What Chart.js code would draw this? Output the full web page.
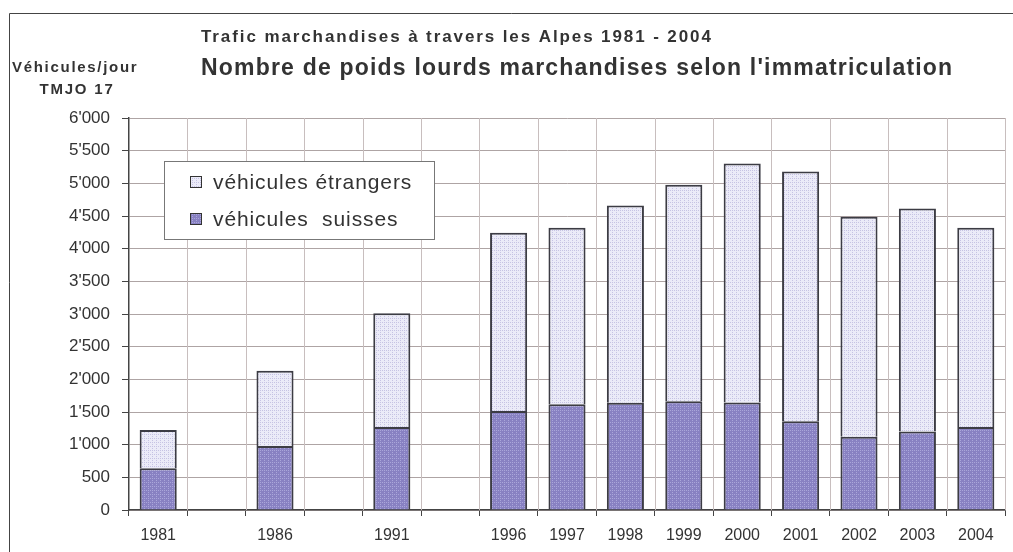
<!DOCTYPE html>
<html>
<head>
<meta charset="utf-8">
<script src="https://cdn.jsdelivr.net/npm/chart.js@4.4.0/dist/chart.umd.min.js"></script>
<style>
  html, body { margin: 0; padding: 0; background: #fff; overflow: hidden; }
  #wrap { position: relative; width: 1013px; height: 552px; }
  canvas { display: block; }
</style>
</head>
<body>
<div id="wrap"><canvas id="alpesChart" width="1013" height="552"></canvas></div>
<script>
// données (véhicules/jour, TMJO 17)
const years = ['1981', '', '1986', '', '1991', '', '1996', '1997', '1998', '1999', '2000', '2001', '2002', '2003', '2004'];
const suisses = [640, null, 980, null, 1270, null, 1515, 1620, 1640, 1665, 1645, 1360, 1120, 1200, 1270];
const etrangers = [585, null, 1150, null, 1740, null, 2730, 2700, 3020, 3315, 3660, 3820, 3370, 3415, 3050];
const yTicks = [0, 500, 1000, 1500, 2000, 2500, 3000, 3500, 4000, 4500, 5000, 5500, 6000];

const FONT = '"Liberation Sans", Arial, sans-serif';

// petit motif pointillé pour les barres
function makePattern(base, dot) {
    const c = document.createElement('canvas');
    c.width = 4; c.height = 4;
    const g = c.getContext('2d');
    g.fillStyle = base;
    g.fillRect(0, 0, 4, 4);
    g.fillStyle = dot;
    g.fillRect(0, 0, 1, 1);
    g.fillRect(2, 2, 1, 1);
    g.fillRect(0, 2, 1, 1);
    return g.createPattern(c, 'repeat');
}
const ctx = document.getElementById('alpesChart').getContext('2d');
const fillSuisses = makePattern('#8881c2', '#aaa6da');
const fillEtrangers = makePattern('#ebebf8', '#c6c3e3');

function spacedText(c, txt, x, y, spacing) {
    c.letterSpacing = spacing + 'px';
    c.fillText(txt, x, y);
    c.letterSpacing = '0px';
}

// titres, cadre et légende dessinés sur le canvas
const decor = {
    id: 'decor',
    beforeDraw(chart) {
        const c = chart.ctx;
        c.save();
        c.fillStyle = '#fff';
        c.fillRect(0, 0, chart.width, chart.height);
        // cadre (coupé à droite et en bas comme l'original)
        c.strokeStyle = '#444';
        c.lineWidth = 1;
        c.beginPath();
        c.moveTo(9.5, chart.height);
        c.lineTo(9.5, 13.5);
        c.lineTo(chart.width, 13.5);
        c.stroke();

        c.fillStyle = '#333';
        c.textBaseline = 'alphabetic';
        c.textAlign = 'left';
        c.font = 'bold 17px ' + FONT;
        spacedText(c, 'Trafic marchandises à travers les Alpes 1981 - 2004', 201, 42, 1.9);
        c.font = 'bold 23px ' + FONT;
        spacedText(c, "Nombre de poids lourds marchandises selon l'immatriculation", 201, 75, 1.2);
        c.font = 'bold 15px ' + FONT;
        spacedText(c, 'Véhicules/jour', 12, 72, 1.7);
        c.textAlign = 'center';
        spacedText(c, 'TMJO 17', 77, 94, 1.8);
        c.restore();
    },
    beforeDatasetsDraw(chart) {
        // lignes verticales entre catégories
        const c = chart.ctx, xs = chart.scales.x, a = chart.chartArea;
        c.save();
        c.strokeStyle = '#c8bebe';
        c.lineWidth = 1;
        c.beginPath();
        for (let i = 1; i <= years.length; i++) {
            const px = Math.round(xs.getPixelForValue(i - 0.5)) + 0.5;
            c.moveTo(px, a.top);
            c.lineTo(px, a.bottom);
        }
        c.stroke();
        c.restore();
    },
    afterDatasetsDraw(chart) {
        const c = chart.ctx;
        c.save();
        c.fillStyle = '#fff';
        c.fillRect(164, 161, 270, 78);
        c.strokeStyle = '#777';
        c.lineWidth = 1;
        c.strokeRect(164.5, 161.5, 270, 78);
        const items = [chart.data.datasets[1], chart.data.datasets[0]];
        items.forEach((ds, i) => {
            const y = 182 + i * 37;
            c.fillStyle = ds.backgroundColor;
            c.fillRect(190, y - 5, 11, 11);
            c.strokeStyle = '#333';
            c.strokeRect(190.5, y - 5.5, 11, 11);
            c.fillStyle = '#333';
            c.font = '21px ' + FONT;
            c.textBaseline = 'middle';
            c.textAlign = 'left';
            spacedText(c, ds.label, 213, y + 1, 0.9);
        });
        c.restore();
    }
};

new Chart(ctx, {
    type: 'bar',
    data: {
        labels: years,
        datasets: [{
            label: 'véhicules  suisses',
            data: suisses,
            backgroundColor: fillSuisses,
            borderColor: '#3c3c44',
            borderWidth: 2,
            borderSkipped: 'start'
        }, {
            label: 'véhicules étrangers',
            data: etrangers,
            backgroundColor: fillEtrangers,
            borderColor: '#3c3c44',
            borderWidth: 2,
            borderSkipped: 'start'
        }]
    },
    options: {
        responsive: false,
        animation: false,
        layout: { padding: { left: 9, right: 8, top: 118, bottom: 0 } },
        categoryPercentage: 1,
        barPercentage: 0.635,
        plugins: {
            legend: { display: false },
            tooltip: { enabled: false }
        },
        scales: {
            x: {
                stacked: true,
                offset: true,
                grid: { drawOnChartArea: false, offset: true, tickLength: 6, tickColor: '#444' },
                border: { color: '#444', width: 1.5 },
                ticks: { color: '#333', font: { family: FONT, size: 16 }, autoSkip: false, maxRotation: 0, padding: 10 },
                afterFit(s) { s.height = 42; }
            },
            y: {
                stacked: true,
                min: 0,
                max: 6000,
                afterBuildTicks(s) { s.ticks = yTicks.map(v => ({ value: v })); },
                grid: { color: '#aea4a4', tickLength: 7, tickColor: '#444' },
                border: { color: '#444', width: 1.5 },
                ticks: {
                    color: '#333',
                    font: { family: FONT, size: 17 },
                    padding: 12,
                    callback: v => v >= 1000 ? Math.floor(v / 1000) + "'" + String(v % 1000).padStart(3, '0') : String(v)
                },
                afterFit(s) { s.width = 120; }
            }
        }
    },
    plugins: [decor]
});
</script>
</body>
</html>
